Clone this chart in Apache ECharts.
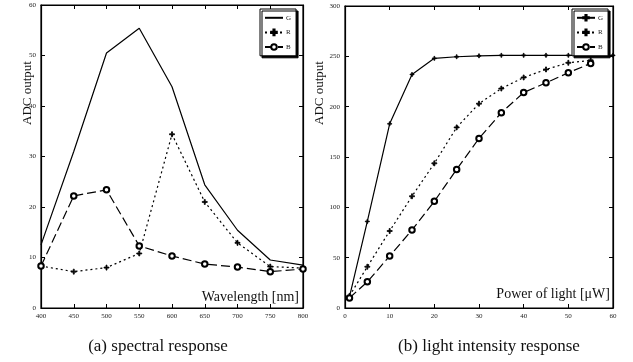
<!DOCTYPE html>
<html>
<head>
<meta charset="utf-8">
<script src="https://cdn.jsdelivr.net/npm/echarts@6/dist/echarts.min.js"></script>
<style>
  html, body { margin: 0; padding: 0; background: #fff; }
  #chart { width: 633px; height: 362px; }
</style>
</head>
<body>
<div id="chart"></div>
<script>
// (a) spectral response
const wavelength = [400, 450, 500, 550, 600, 650, 700, 750, 800]
const specG = [12.5, 31, 50.5, 55.4, 43.8, 24.4, 15.4, 9.5, 8.5]
const specR = [8.3, 7.2, 8.0, 10.8, 34.4, 21.0, 12.9, 8.2, 7.9]
const specB = [8.3, 22.2, 23.4, 12.3, 10.3, 8.7, 8.1, 7.2, 7.7]

// (b) light intensity response
const powerG = [1, 5, 10, 15, 20, 25, 30, 35, 40, 45, 50, 55, 60]
const intG = [11, 86, 183, 232, 248, 249.6, 250.5, 251, 251, 251, 251, 251, 251]
const power = [1, 5, 10, 15, 20, 25, 30, 35, 40, 45, 50, 55]
const intR = [12, 41, 76.5, 111, 143.7, 179.4, 203, 218, 229, 237, 243.6, 246]
const intB = [10, 26, 51.6, 77.5, 106, 137.7, 168.5, 194, 214, 223.7, 233.7, 243]

const legendNames = ['G', 'R', 'B']

const serif = 'Liberation Serif, Times New Roman, serif'
const plus = 'path://M4,0H6V4H10V6H6V10H4V6H0V4H4Z'

const pairs = (xs, ys) => xs.map((x, i) => [x, ys[i]])

// 坐标轴：下/左带刻度值，上/右只画刻度
const axisBase = (gridIndex, min, max, interval, position, showLabel) => ({
  type: 'value',
  gridIndex,
  min,
  max,
  interval,
  position,
  axisLine: { show: true, onZero: false, lineStyle: { color: '#000', width: 1.2 } },
  axisTick: { show: true, inside: true, length: 4, lineStyle: { color: '#000' } },
  axisLabel: {
    show: showLabel,
    fontSize: 7,
    color: '#222',
    fontFamily: serif,
    margin: 5
  },
  splitLine: { show: false }
})

const lineSeries = (name, data, xi, yi, kind) => {
  const s = {
    name,
    type: 'line',
    xAxisIndex: xi,
    yAxisIndex: yi,
    data,
    color: '#000',
    lineStyle: { color: '#000', width: 1.2 },
    itemStyle: { color: '#000', borderColor: '#000', borderWidth: 0.8 },
    symbol: plus,
    symbolSize: 4,
    animation: false
  }
  // 左图G线不画点
  if (kind === 'G') s.showSymbol = false
  if (kind === 'R') {
    s.lineStyle.type = [2, 3]
    s.symbolSize = 5
  }
  if (kind === 'B') {
    s.lineStyle.type = [9, 4]
    s.symbol = 'emptyCircle'
    s.symbolSize = 5.5
  }
  return s
}

const legendBase = (left, plainG) => ({
  orient: 'vertical',
  left,
  top: 9,
  data: legendNames.map(n => (n === 'G' && plainG) ? { name: n, itemStyle: { opacity: 0 } } : n),
  itemWidth: 18,
  itemHeight: 7,
  itemGap: 7,
  padding: [5, 5, 5, 4],
  borderColor: '#000',
  borderWidth: 1,
  backgroundColor: '#fff',
  shadowColor: '#000',
  shadowOffsetX: 2,
  shadowOffsetY: 2,
  textStyle: { fontSize: 7, color: '#222', fontFamily: serif, padding: [0, 0, 0, -2] }
})

const chart = echarts.init(document.getElementById('chart'))

const option = {
  backgroundColor: '#fff',
  animation: false,
  grid: [
    { left: 41, top: 5, width: 262, height: 303, show: true, borderColor: '#000', borderWidth: 1.2 },
    { left: 345, top: 6, width: 268, height: 302, show: true, borderColor: '#000', borderWidth: 1.2 }
  ],
  xAxis: [
    axisBase(0, 400, 800, 50, 'bottom', true),
    axisBase(0, 400, 800, 50, 'top', false),
    axisBase(1, 0, 60, 10, 'bottom', true),
    axisBase(1, 0, 60, 10, 'top', false)
  ],
  yAxis: [
    axisBase(0, 0, 60, 10, 'left', true),
    axisBase(0, 0, 60, 10, 'right', false),
    axisBase(1, 0, 300, 50, 'left', true),
    axisBase(1, 0, 300, 50, 'right', false)
  ],
  legend: [
    { ...legendBase(260, true), id: 'la' },
    { ...legendBase(572, false), id: 'lb' }
  ],
  series: [
    lineSeries('G', pairs(wavelength, specG), 0, 0, 'G'),
    lineSeries('R', pairs(wavelength, specR), 0, 0, 'R'),
    lineSeries('B', pairs(wavelength, specB), 0, 0, 'B'),
    lineSeries('G', pairs(powerG, intG), 2, 2, 'G2'),
    lineSeries('R', pairs(power, intR), 2, 2, 'R'),
    lineSeries('B', pairs(power, intB), 2, 2, 'B')
  ],
  graphic: [
    {
      type: 'text', x: 28, y: 93, rotation: Math.PI / 2,
      style: { text: 'ADC output', font: '13px ' + serif, fill: '#111', textAlign: 'center', textVerticalAlign: 'middle' }
    },
    {
      type: 'text', x: 320, y: 93, rotation: Math.PI / 2,
      style: { text: 'ADC output', font: '13px ' + serif, fill: '#111', textAlign: 'center', textVerticalAlign: 'middle' }
    },
    {
      type: 'text', x: 299, y: 297,
      style: { text: 'Wavelength [nm]', font: '14px ' + serif, fill: '#111', textAlign: 'right', textVerticalAlign: 'middle' }
    },
    {
      type: 'text', x: 610, y: 294,
      style: { text: 'Power of light [μW]', font: '14px ' + serif, fill: '#111', textAlign: 'right', textVerticalAlign: 'middle' }
    },
    {
      type: 'text', x: 158, y: 347,
      style: { text: '(a) spectral response', font: '17px ' + serif, fill: '#111', textAlign: 'center', textVerticalAlign: 'middle' }
    },
    {
      type: 'text', x: 489, y: 347,
      style: { text: '(b) light intensity response', font: '17px ' + serif, fill: '#111', textAlign: 'center', textVerticalAlign: 'middle' }
    }
  ]
}

chart.setOption(option)
</script>
</body>
</html>
